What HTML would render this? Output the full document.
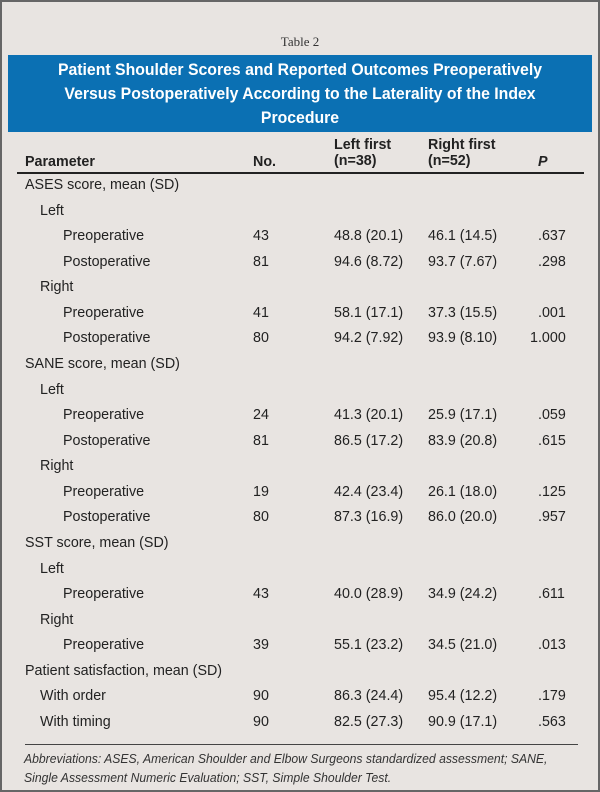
<!DOCTYPE html>
<html><head><style>
html,body{margin:0;padding:0}
body{width:600px;height:792px;background:#e8e4e1;position:relative;overflow:hidden;font-family:"Liberation Sans",sans-serif;color:#222}
.frame{position:absolute;left:0;top:0;width:596px;height:788px;border:2px solid #666}
.t2{position:absolute;top:34px;left:0;width:600px;text-align:center;font-family:"Liberation Serif",serif;font-size:13px;color:#333}
.band{position:absolute;left:8px;top:55px;width:584px;height:77px;background:#0b70b3}
.band div{position:absolute;left:0;width:584px;text-align:center;color:#fff;font-weight:bold;font-size:17px;line-height:24px;transform:scaleX(0.93);transform-origin:center}
.r{position:absolute;font-size:14.3px;white-space:nowrap;line-height:16px}
.h{font-weight:bold}
.hl{position:absolute;left:17px;width:567px;top:172px;height:2px;background:#222}
.bl{position:absolute;left:25px;width:553px;top:744px;height:1px;background:#444}
.fn{position:absolute;left:24px;font-size:12.5px;font-style:italic;color:#333;line-height:19px;top:750px;white-space:nowrap;transform:scaleX(0.975);transform-origin:left}
</style></head><body>
<div class="frame"></div>
<div class="t2">Table 2</div>
<div class="band">
<div style="top:3px">Patient Shoulder Scores and Reported Outcomes Preoperatively</div>
<div style="top:27px">Versus Postoperatively According to the Laterality of the Index</div>
<div style="top:51px">Procedure</div>
</div>
<div class="r h" style="left:25px;top:154px">Parameter</div>
<div class="r h" style="left:253px;top:154px">No.</div>
<div class="r h" style="left:334px;top:137px">Left first<br>(n=38)</div>
<div class="r h" style="left:428px;top:137px">Right first<br>(n=52)</div>
<div class="r h" style="left:538px;top:154px;font-style:italic">P</div>
<div class="hl"></div>
<div id="rows"></div>
<div class="bl"></div>
<div class="fn">Abbreviations: ASES, American Shoulder and Elbow Surgeons standardized assessment; SANE,<br>Single Assessment Numeric Evaluation; SST, Simple Shoulder Test.</div>
<script>
var rows=[
[0,"ASES score, mean (SD)"],[1,"Left"],
[2,"Preoperative","43","48.8 (20.1)","46.1 (14.5)",".637"],
[2,"Postoperative","81","94.6 (8.72)","93.7 (7.67)",".298"],
[1,"Right"],
[2,"Preoperative","41","58.1 (17.1)","37.3 (15.5)",".001"],
[2,"Postoperative","80","94.2 (7.92)","93.9 (8.10)","1.000"],
[0,"SANE score, mean (SD)"],[1,"Left"],
[2,"Preoperative","24","41.3 (20.1)","25.9 (17.1)",".059"],
[2,"Postoperative","81","86.5 (17.2)","83.9 (20.8)",".615"],
[1,"Right"],
[2,"Preoperative","19","42.4 (23.4)","26.1 (18.0)",".125"],
[2,"Postoperative","80","87.3 (16.9)","86.0 (20.0)",".957"],
[0,"SST score, mean (SD)"],[1,"Left"],
[2,"Preoperative","43","40.0 (28.9)","34.9 (24.2)",".611"],
[1,"Right"],
[2,"Preoperative","39","55.1 (23.2)","34.5 (21.0)",".013"],
[0,"Patient satisfaction, mean (SD)"],
[1,"With order","90","86.3 (24.4)","95.4 (12.2)",".179"],
[1,"With timing","90","82.5 (27.3)","90.9 (17.1)",".563"]];
var h="",ind=[25,40,63];
rows.forEach(function(r,i){var y=185+i*25.57-8;
h+='<div class="r" style="left:'+ind[r[0]]+'px;top:'+y+'px">'+r[1]+'</div>';
if(r[2]){h+='<div class="r" style="left:253px;top:'+y+'px">'+r[2]+'</div><div class="r" style="left:334px;top:'+y+'px">'+r[3]+'</div><div class="r" style="left:428px;top:'+y+'px">'+r[4]+'</div><div class="r" style="left:'+(r[5].length>4?530:538)+'px;top:'+y+'px">'+r[5]+'</div>';}
});
document.getElementById("rows").innerHTML=h;
</script>
</body></html>
